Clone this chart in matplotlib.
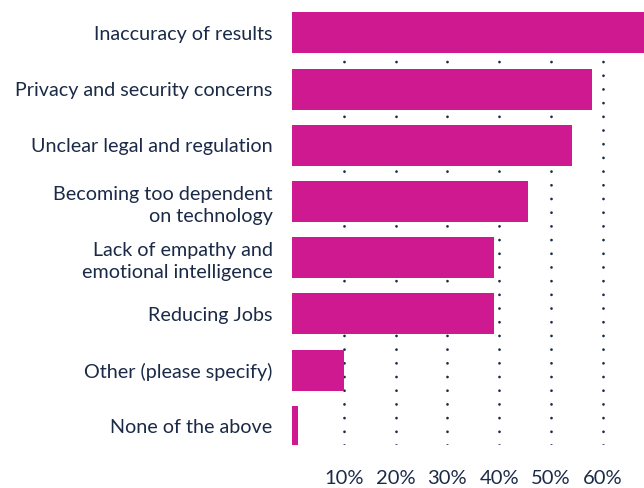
import matplotlib.pyplot as plt

## Survey answers, top to bottom
categories = [
    "Inaccuracy of results",
    "Privacy and security concerns",
    "Unclear legal and regulation",
    "Becoming too dependent\non technology",
    "Lack of empathy and\nemotional intelligence",
    "Reducing Jobs",
    "Other (please specify)",
    "None of the above",
]
percent = [70, 58, 54, 45.5, 39, 39, 10, 1.2]
tick_values = [10, 20, 30, 40, 50, 60]
tick_labels = ["10%", "20%", "30%", "40%", "50%", "60%"]

BAR_COLOR = "#CF1990"
TEXT_COLOR = "#1B2A47"

plt.rcParams['font.family'] = ['Lato', 'DejaVu Sans']
plt.rcParams['lines.scale_dashes'] = False

fig = plt.figure(figsize=(6.44, 4.88), dpi=100)
## axes top sits on the top edge of the first bar
ax = fig.add_axes([292 / 644, 42.7 / 488, 352 / 644, 433.0 / 488])

pos = list(range(len(categories)))

## dotted grid lines sit behind the bars
for v in tick_values:
    ax.axvline(v, color=TEXT_COLOR, linewidth=2.0, linestyle=(0, (0.01, 9.85)),
               dash_capstyle='round', zorder=1)

ax.barh(pos, percent, height=0.73, color=BAR_COLOR, zorder=2)

ax.set_xlim(0, 67.95)
ax.set_ylim(7.338, -0.365)

ax.set_yticks(pos)
ax.set_yticklabels(categories, fontsize=14.2, color=TEXT_COLOR, linespacing=1.35)
ax.set_xticks(tick_values)
ax.set_xticklabels(tick_labels, fontsize=14.5, color=TEXT_COLOR)
ax.tick_params(axis='y', length=0, pad=14)
ax.tick_params(axis='x', length=0, pad=18)

for s in ax.spines.values():
    s.set_visible(False)

plt.savefig("out.png", dpi=100)
